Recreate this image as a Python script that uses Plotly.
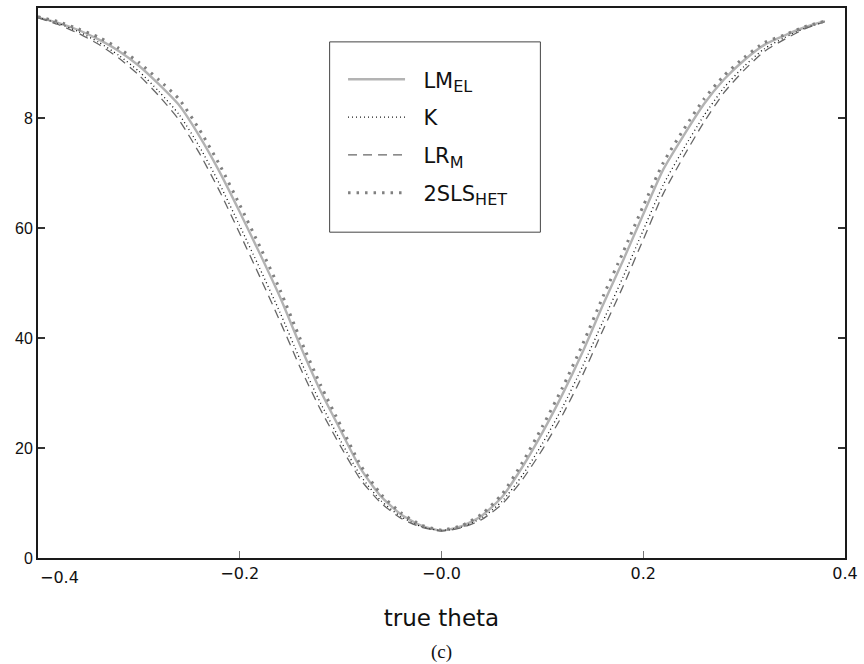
import plotly.graph_objects as go

theta = [-0.40, -0.38, -0.36, -0.34, -0.32, -0.30, -0.28, -0.26, -0.24, -0.22,
         -0.20, -0.18, -0.16, -0.14, -0.12, -0.10, -0.08, -0.06, -0.04, -0.02,
         0.00, 0.02, 0.04, 0.06, 0.08, 0.10, 0.12, 0.14, 0.16, 0.18,
         0.20, 0.22, 0.24, 0.26, 0.28, 0.30, 0.32, 0.34, 0.36, 0.38]

lm_el = [98.3, 97.3, 96.0, 94.3, 92.2, 89.5, 86.1, 82.3, 76.7, 70.2,
         62.9, 55.3, 47.4, 38.6, 30.4, 23.2, 16.2, 11.2, 7.9, 5.9,
         5.0, 5.8, 7.7, 11.1, 16.5, 22.8, 29.8, 37.5, 46.0, 54.1,
         62.5, 70.7, 76.8, 82.5, 87.0, 90.5, 93.3, 95.0, 96.5, 97.6]

k_stat = [98.3, 97.2, 95.7, 93.8, 91.4, 88.5, 84.8, 80.6, 74.8, 68.0,
          60.4, 52.6, 44.6, 36.0, 28.2, 21.3, 14.9, 10.4, 7.5, 5.7,
          5.0, 5.6, 7.3, 10.3, 15.0, 20.8, 27.4, 34.9, 43.0, 51.1,
          59.6, 67.9, 74.4, 80.4, 85.5, 89.4, 92.6, 94.6, 96.3, 97.5]

lr_m = [98.2, 97.0, 95.4, 93.4, 90.9, 87.8, 84.0, 79.6, 73.6, 66.7,
        59.0, 51.1, 43.0, 34.6, 27.0, 20.3, 14.2, 10.0, 7.2, 5.6,
        4.9, 5.5, 7.0, 9.8, 14.2, 19.7, 26.0, 33.3, 41.4, 49.4,
        57.9, 66.3, 73.0, 79.2, 84.6, 88.7, 92.1, 94.3, 96.2, 97.5]

tsls_het = [98.4, 97.5, 96.2, 94.7, 92.7, 90.1, 86.9, 83.4, 77.9, 71.5,
            64.2, 56.6, 48.7, 39.8, 31.5, 24.1, 16.8, 11.6, 8.2, 6.0,
            5.1, 5.9, 8.0, 11.6, 17.3, 23.9, 31.0, 38.9, 47.5, 55.6,
            64.0, 71.9, 77.9, 83.4, 87.7, 91.0, 93.7, 95.1, 96.6, 97.6]

SUB = "<sub><span style='font-size:16px'>{}</span></sub>"
NB = "\u00a0\u00a0"
names = [NB + "LM" + SUB.format("EL"), NB + "K", NB + "LR" + SUB.format("M"),
         NB + "2SLS" + SUB.format("HET")]
ytick_vals = [0, 20, 40, 60, 80]
ytick_text = ["0", "20", "40", "60", "8"]
xtick_vals = [-0.2, 0.0, 0.2, 0.4]
xtick_text = ["\u22120.2", "\u22120.0", "0.2", "0.4"]

FONT = "Liberation Sans"
WIDE = "DejaVu Sans"

fig = go.Figure()
styles = [
    dict(color="#b3b3b3", width=2.4, dash="solid"),
    dict(color="#111111", width=1.3, dash="1px,3px"),
    dict(color="#666666", width=1.3, dash="9px,6px"),
    dict(color="#808080", width=3, dash="2.5px,6px"),
]
series = [lm_el, k_stat, lr_m, tsls_het]
for i, (nm, ys, st) in enumerate(zip(names, series, styles)):
    fig.add_trace(go.Scatter(x=theta, y=ys, mode="lines", name=nm,
                             line=dict(shape="spline", smoothing=0.6, **st),
                             legendgroup=f"g{i}"))

fig.update_layout(
    width=864, height=664,
    margin=dict(l=38, r=18, t=6, b=106),
    paper_bgcolor="white", plot_bgcolor="white",
    font=dict(family=FONT, size=16, color="#111111"),
    showlegend=True,
    legend=dict(x=0.378, y=0.907, xanchor="left", yanchor="top",
                bgcolor="rgba(0,0,0,0)", borderwidth=0,
                font=dict(family=WIDE, size=21, color="#111111"),
                itemwidth=57, tracegroupgap=7.5),
    xaxis=dict(range=[-0.4, 0.4], tickvals=xtick_vals, ticktext=xtick_text,
               ticks="inside", ticklen=7, tickwidth=1, tickcolor="#777777",
               showline=True, linecolor="#1a1a1a", linewidth=2, mirror=True,
               showgrid=False, zeroline=False,
               tickfont=dict(family=WIDE, size=16),
               title=dict(text="true theta", font=dict(family=WIDE, size=23), standoff=28)),
    yaxis=dict(range=[0, 100], tickvals=ytick_vals, ticktext=ytick_text,
               ticks="inside", ticklen=7, tickwidth=1.5, tickcolor="#333333",
               showline=True, linecolor="#1a1a1a", linewidth=2, mirror="ticks",
               showgrid=False, zeroline=False,
               tickfont=dict(family=FONT, size=16)),
)

# legend frame
fig.add_shape(type="rect", xref="paper", yref="paper",
              x0=(330 - 38) / 808, x1=(541 - 38) / 808,
              y0=(558 - 231) / 552, y1=(558 - 40) / 552,
              line=dict(color="#444444", width=1), fillcolor="rgba(0,0,0,0)")

# first x tick label (sits inside the plot edge)
fig.add_annotation(x=-0.4, y=0, xref="x", yref="paper", text="\u22120.4",
                   showarrow=False, xanchor="left", yanchor="top", yshift=-8,
                   font=dict(family=WIDE, size=16, color="#111111"))

fig.add_annotation(x=0.5, y=-0.17, xref="paper", yref="paper", text="(c)",
                   showarrow=False, xanchor="center", yanchor="middle",
                   font=dict(family="Liberation Serif", size=19, color="#111111"))

fig.write_html("out.html")
